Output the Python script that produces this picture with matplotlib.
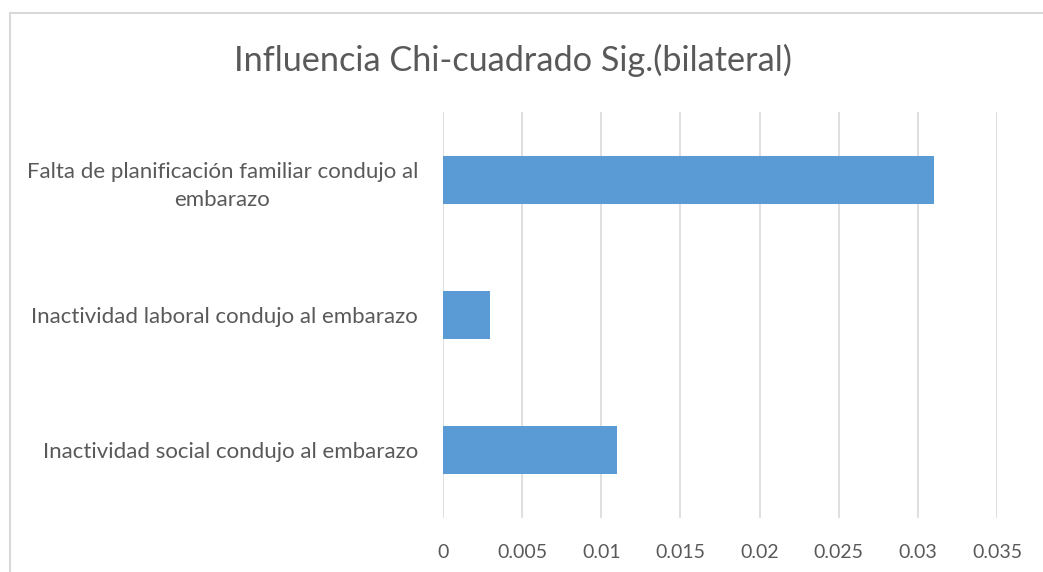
import matplotlib
matplotlib.use("Agg")
import matplotlib.pyplot as plt
from matplotlib.patches import Rectangle

categories = ["Falta de planificación familiar condujo al\nembarazo",
              "Inactividad laboral condujo al embarazo",
              "Inactividad social condujo al embarazo"]
values = [0.031, 0.003, 0.011]
xticks = [0, 0.005, 0.01, 0.015, 0.02, 0.025, 0.03, 0.035]
xticklabels = ["0", "0.005", "0.01", "0.015", "0.02", "0.025", "0.03", "0.035"]
title = "Influencia Chi-cuadrado Sig.(bilateral)"

W, H = 1043, 572
fig = plt.figure(figsize=(W / 100, H / 100), dpi=100)
fig.patch.set_facecolor("white")
plt.rcParams['font.family'] = ['Lato', 'DejaVu Sans']

# chart area border
fig.patches.append(Rectangle((10 / W, -0.1), 1.2, 1 - 13 / H + 0.1, transform=fig.transFigure,
                             fill=False, edgecolor="#D9D9D9", lw=1.5))

ax = fig.add_axes([443 / W, 1 - 518 / H, (997 - 443) / W, (518 - 112) / H])
ypos = list(range(len(categories)))
ax.barh(ypos, values, height=0.353, color="#5B9BD5", zorder=3)
ax.set_ylim(len(categories) - 0.5, -0.5)
ax.set_xlim(0, 0.035)
ax.set_xticks(xticks)
ax.set_xticklabels(xticklabels)
ax.set_yticks(ypos)
ax.set_yticklabels(categories, multialignment="center", linespacing=1.5)
ax.grid(axis="x", color="#D9D9D9", lw=1.2, zorder=0)
ax.set_axisbelow(True)
for s in ax.spines.values():
    s.set_visible(False)
ax.tick_params(axis="x", length=0, pad=19, labelsize=14, labelcolor="#595959")
ax.tick_params(axis="y", length=0, pad=18, labelsize=16, labelcolor="#595959")

fig.text(513 / W, 1 - 60 / H, title, ha="center", va="center", fontsize=24.7, color="#595959")

fig.savefig("out.png", dpi=100, facecolor="white")
